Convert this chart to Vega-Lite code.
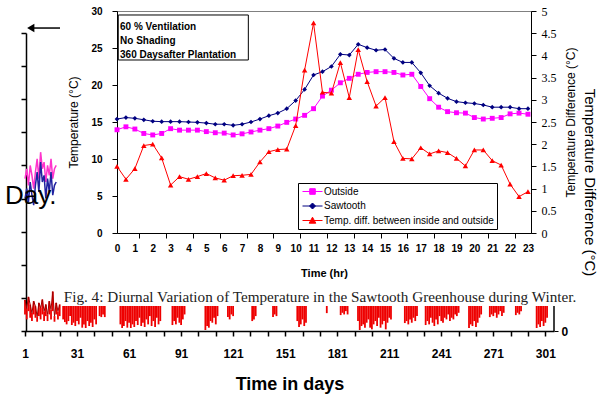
{
  "$schema": "https://vega.github.io/schema/vega-lite/v6.json",
  "width": 414,
  "height": 222,
  "autosize": {"type": "none"},
  "padding": {"left": 117, "top": 11, "right": 68, "bottom": 167},
  "background": "white",
  "config": {
    "font": "Liberation Sans",
    "view": {"stroke": "#808080", "strokeWidth": 1},
    "axis": {"grid": false, "domainColor": "black", "tickColor": "black", "labelColor": "black", "titleColor": "black", "labelFlush": false, "labelOverlap": false, "labelBound": false}
  },
  "datasets": {
    "hourly": [
      {"h": 0, "outside": 13.95, "saw": 15.4, "diff": 1.5},
      {"h": 0.5, "outside": 14.35, "saw": 15.6, "diff": 1.21},
      {"h": 1, "outside": 14.05, "saw": 15.5, "diff": 1.45},
      {"h": 1.5, "outside": 13.45, "saw": 15.3, "diff": 1.97},
      {"h": 2, "outside": 13.25, "saw": 15.1, "diff": 2.0},
      {"h": 2.5, "outside": 13.45, "saw": 15.05, "diff": 1.69},
      {"h": 3, "outside": 14.1, "saw": 15.05, "diff": 1.08},
      {"h": 3.5, "outside": 13.9, "saw": 15.05, "diff": 1.27},
      {"h": 4, "outside": 13.9, "saw": 15.0, "diff": 1.21},
      {"h": 4.5, "outside": 13.9, "saw": 14.95, "diff": 1.27},
      {"h": 5, "outside": 13.7, "saw": 14.85, "diff": 1.34},
      {"h": 5.5, "outside": 13.55, "saw": 14.7, "diff": 1.24},
      {"h": 6, "outside": 13.5, "saw": 14.7, "diff": 1.19},
      {"h": 6.5, "outside": 13.25, "saw": 14.55, "diff": 1.29},
      {"h": 7, "outside": 13.4, "saw": 14.7, "diff": 1.3},
      {"h": 7.5, "outside": 13.65, "saw": 15.0, "diff": 1.32},
      {"h": 8, "outside": 13.9, "saw": 15.4, "diff": 1.6},
      {"h": 8.5, "outside": 14.1, "saw": 15.85, "diff": 1.83},
      {"h": 9, "outside": 14.45, "saw": 16.2, "diff": 1.88},
      {"h": 9.5, "outside": 14.95, "saw": 16.8, "diff": 1.89},
      {"h": 10, "outside": 15.4, "saw": 17.9, "diff": 2.42},
      {"h": 10.5, "outside": 15.9, "saw": 19.4, "diff": 3.67},
      {"h": 11, "outside": 16.8, "saw": 21.35, "diff": 4.73},
      {"h": 11.5, "outside": 18.5, "saw": 21.8, "diff": 3.17},
      {"h": 12, "outside": 19.3, "saw": 22.5, "diff": 3.15},
      {"h": 12.5, "outside": 20.3, "saw": 24.15, "diff": 3.84},
      {"h": 13, "outside": 20.9, "saw": 24.05, "diff": 3.05},
      {"h": 13.5, "outside": 21.45, "saw": 25.5, "diff": 4.13},
      {"h": 14, "outside": 21.7, "saw": 25.05, "diff": 3.41},
      {"h": 14.5, "outside": 21.8, "saw": 24.7, "diff": 2.86},
      {"h": 15, "outside": 21.8, "saw": 24.8, "diff": 3.05},
      {"h": 15.5, "outside": 21.7, "saw": 23.6, "diff": 2.06},
      {"h": 16, "outside": 21.35, "saw": 23.05, "diff": 1.68},
      {"h": 16.5, "outside": 21.45, "saw": 23.05, "diff": 1.67},
      {"h": 17, "outside": 19.8, "saw": 21.65, "diff": 1.92},
      {"h": 17.5, "outside": 18.15, "saw": 19.9, "diff": 1.78},
      {"h": 18, "outside": 17.0, "saw": 18.9, "diff": 1.85},
      {"h": 18.5, "outside": 16.4, "saw": 18.2, "diff": 1.81},
      {"h": 19, "outside": 16.25, "saw": 17.75, "diff": 1.68},
      {"h": 19.5, "outside": 16.2, "saw": 17.6, "diff": 1.51},
      {"h": 20, "outside": 15.6, "saw": 17.5, "diff": 1.87},
      {"h": 20.5, "outside": 15.4, "saw": 17.3, "diff": 1.87},
      {"h": 21, "outside": 15.5, "saw": 17.0, "diff": 1.63},
      {"h": 21.5, "outside": 15.6, "saw": 17.0, "diff": 1.53},
      {"h": 22, "outside": 16.1, "saw": 17.0, "diff": 1.1},
      {"h": 22.5, "outside": 16.2, "saw": 16.8, "diff": 0.82},
      {"h": 23, "outside": 16.05, "saw": 16.8, "diff": 0.93}
    ],
    "bars": [
      {"day": 1, "low": 0.5, "high": 0.94}, {"day": 2, "low": 0.35, "high": 0.69}, {"day": 3, "low": 0.6, "high": 1.03},
      {"day": 4, "low": 0.4, "high": 0.8}, {"day": 5, "low": 0.3, "high": 0.54}, {"day": 6, "low": 0.5, "high": 0.9},
      {"day": 7, "low": 0.4, "high": 0.75}, {"day": 8, "low": 0.28, "high": 0.43}, {"day": 9, "low": 0.45, "high": 0.85},
      {"day": 10, "low": 0.35, "high": 0.7}, {"day": 11, "low": 0.5, "high": 0.95}, {"day": 12, "low": 0.3, "high": 0.6},
      {"day": 13, "low": 0.45, "high": 0.8}, {"day": 14, "low": 0.3, "high": 0.5}, {"day": 15, "low": 0.5, "high": 0.9},
      {"day": 16, "low": 0.35, "high": 0.65}, {"day": 17, "low": 0.6, "high": 1.19}, {"day": 18, "low": 0.28, "high": 0.45},
      {"day": 19, "low": 0.5, "high": 0.85}, {"day": 20, "low": 0.35, "high": 0.6}, {"day": 21, "low": 0.45, "high": 0.8},
      {"day": 23, "low": 0.35, "high": 0.755}, {"day": 24, "low": 0.27, "high": 0.755}, {"day": 25, "low": 0.2, "high": 0.755}, {"day": 26, "low": 0.3, "high": 0.755}, {"day": 27, "low": 0.45, "high": 0.755},
      {"day": 28, "low": 0.18, "high": 0.755}, {"day": 29, "low": 0.25, "high": 0.755}, {"day": 30, "low": 0.15, "high": 0.755}, {"day": 31, "low": 0.3, "high": 0.755}, {"day": 32, "low": 0.2, "high": 0.755}, {"day": 33, "low": 0.4, "high": 0.755},
      {"day": 34, "low": 0.1, "high": 0.755}, {"day": 35, "low": 0.2, "high": 0.755}, {"day": 36, "low": 0.09, "high": 0.755}, {"day": 37, "low": 0.3, "high": 0.755}, {"day": 38, "low": 0.15, "high": 0.755}, {"day": 39, "low": 0.25, "high": 0.755}, {"day": 40, "low": 0.12, "high": 0.755}, {"day": 41, "low": 0.35, "high": 0.755}, {"day": 42, "low": 0.2, "high": 0.755},
      {"day": 44, "low": 0.45, "high": 0.755}, {"day": 45, "low": 0.42, "high": 0.755}, {"day": 46, "low": 0.5, "high": 0.755}, {"day": 47, "low": 0.42, "high": 0.755},
      {"day": 56, "low": 0.2, "high": 0.755}, {"day": 57, "low": 0.09, "high": 0.755}, {"day": 58, "low": 0.15, "high": 0.755}, {"day": 59, "low": 0.3, "high": 0.755}, {"day": 60, "low": 0.1, "high": 0.755}, {"day": 61, "low": 0.25, "high": 0.755}, {"day": 62, "low": 0.09, "high": 0.755}, {"day": 63, "low": 0.2, "high": 0.755},
      {"day": 64, "low": 0.12, "high": 0.755}, {"day": 65, "low": 0.3, "high": 0.755}, {"day": 66, "low": 0.18, "high": 0.755}, {"day": 67, "low": 0.4, "high": 0.755}, {"day": 68, "low": 0.15, "high": 0.755}, {"day": 69, "low": 0.25, "high": 0.755}, {"day": 70, "low": 0.12, "high": 0.755}, {"day": 71, "low": 0.35, "high": 0.755},
      {"day": 72, "low": 0.2, "high": 0.755}, {"day": 73, "low": 0.45, "high": 0.755}, {"day": 74, "low": 0.15, "high": 0.755}, {"day": 75, "low": 0.3, "high": 0.755}, {"day": 76, "low": 0.12, "high": 0.755}, {"day": 77, "low": 0.4, "high": 0.755}, {"day": 78, "low": 0.2, "high": 0.755}, {"day": 79, "low": 0.3, "high": 0.755},
      {"day": 86, "low": 0.18, "high": 0.755}, {"day": 87, "low": 0.3, "high": 0.755}, {"day": 88, "low": 0.2, "high": 0.755}, {"day": 89, "low": 0.4, "high": 0.755}, {"day": 90, "low": 0.25, "high": 0.755}, {"day": 91, "low": 0.18, "high": 0.755}, {"day": 92, "low": 0.35, "high": 0.755}, {"day": 93, "low": 0.5, "high": 0.755},
      {"day": 105, "low": 0.03, "high": 0.755}, {"day": 106, "low": 0.15, "high": 0.755}, {"day": 107, "low": 0.1, "high": 0.755}, {"day": 108, "low": 0.3, "high": 0.755}, {"day": 109, "low": 0.25, "high": 0.755}, {"day": 110, "low": 0.4, "high": 0.755}, {"day": 111, "low": 0.2, "high": 0.755}, {"day": 112, "low": 0.45, "high": 0.755},
      {"day": 118, "low": 0.42, "high": 0.755}, {"day": 119, "low": 0.35, "high": 0.755}, {"day": 120, "low": 0.5, "high": 0.755}, {"day": 121, "low": 0.45, "high": 0.755},
      {"day": 132, "low": 0.3, "high": 0.755}, {"day": 133, "low": 0.35, "high": 0.755}, {"day": 134, "low": 0.45, "high": 0.755},
      {"day": 144, "low": 0.42, "high": 0.755}, {"day": 145, "low": 0.5, "high": 0.755}, {"day": 146, "low": 0.45, "high": 0.755},
      {"day": 158, "low": 0.3, "high": 0.755}, {"day": 159, "low": 0.12, "high": 0.755}, {"day": 160, "low": 0.2, "high": 0.755}, {"day": 161, "low": 0.35, "high": 0.755}, {"day": 162, "low": 0.15, "high": 0.755}, {"day": 163, "low": 0.25, "high": 0.755},
      {"day": 175, "low": 0.54, "high": 0.755},
      {"day": 183, "low": 0.48, "high": 0.755}, {"day": 184, "low": 0.55, "high": 0.755}, {"day": 185, "low": 0.5, "high": 0.755}, {"day": 186, "low": 0.6, "high": 0.755}, {"day": 187, "low": 0.5, "high": 0.755},
      {"day": 193, "low": 0.3, "high": 0.755}, {"day": 194, "low": 0.03, "high": 0.755}, {"day": 195, "low": 0.15, "high": 0.755}, {"day": 196, "low": 0.2, "high": 0.755}, {"day": 197, "low": 0.1, "high": 0.755}, {"day": 198, "low": 0.25, "high": 0.755}, {"day": 199, "low": 0.35, "high": 0.755}, {"day": 200, "low": 0.1, "high": 0.755}, {"day": 201, "low": 0.05, "high": 0.755}, {"day": 202, "low": 0.2, "high": 0.755},
      {"day": 203, "low": 0.3, "high": 0.755}, {"day": 204, "low": 0.15, "high": 0.755}, {"day": 205, "low": 0.4, "high": 0.755}, {"day": 206, "low": 0.1, "high": 0.755}, {"day": 207, "low": 0.2, "high": 0.755}, {"day": 208, "low": 0.3, "high": 0.755}, {"day": 209, "low": 0.05, "high": 0.755}, {"day": 210, "low": 0.25, "high": 0.755}, {"day": 211, "low": 0.4, "high": 0.755}, {"day": 212, "low": 0.35, "high": 0.755},
      {"day": 220, "low": 0.24, "high": 0.755}, {"day": 221, "low": 0.3, "high": 0.755}, {"day": 222, "low": 0.2, "high": 0.755}, {"day": 223, "low": 0.35, "high": 0.755}, {"day": 224, "low": 0.25, "high": 0.755}, {"day": 225, "low": 0.4, "high": 0.755}, {"day": 226, "low": 0.3, "high": 0.755}, {"day": 227, "low": 0.45, "high": 0.755},
      {"day": 232, "low": 0.18, "high": 0.755}, {"day": 233, "low": 0.3, "high": 0.755}, {"day": 234, "low": 0.2, "high": 0.755}, {"day": 235, "low": 0.4, "high": 0.755}, {"day": 236, "low": 0.25, "high": 0.755}, {"day": 237, "low": 0.15, "high": 0.755}, {"day": 238, "low": 0.35, "high": 0.755}, {"day": 239, "low": 0.2, "high": 0.755}, {"day": 240, "low": 0.45, "high": 0.755}, {"day": 241, "low": 0.3, "high": 0.755}, {"day": 242, "low": 0.25, "high": 0.755}, {"day": 243, "low": 0.4, "high": 0.755}, {"day": 244, "low": 0.35, "high": 0.755}, {"day": 245, "low": 0.5, "high": 0.755},
      {"day": 246, "low": 0.3, "high": 0.755}, {"day": 247, "low": 0.4, "high": 0.755}, {"day": 248, "low": 0.35, "high": 0.755}, {"day": 249, "low": 0.5, "high": 0.755}, {"day": 250, "low": 0.45, "high": 0.755}, {"day": 251, "low": 0.55, "high": 0.755},
      {"day": 257, "low": 0.09, "high": 0.755}, {"day": 258, "low": 0.2, "high": 0.755}, {"day": 259, "low": 0.15, "high": 0.755}, {"day": 260, "low": 0.3, "high": 0.755}, {"day": 261, "low": 0.12, "high": 0.755}, {"day": 262, "low": 0.25, "high": 0.755}, {"day": 263, "low": 0.4, "high": 0.755}, {"day": 264, "low": 0.5, "high": 0.755},
      {"day": 269, "low": 0.42, "high": 0.755}, {"day": 270, "low": 0.5, "high": 0.755}, {"day": 271, "low": 0.45, "high": 0.755}, {"day": 272, "low": 0.55, "high": 0.755}, {"day": 273, "low": 0.4, "high": 0.755}, {"day": 274, "low": 0.5, "high": 0.755}, {"day": 275, "low": 0.6, "high": 0.755}, {"day": 276, "low": 0.45, "high": 0.755}, {"day": 277, "low": 0.55, "high": 0.755},
      {"day": 284, "low": 0.48, "high": 0.755}, {"day": 285, "low": 0.55, "high": 0.755}, {"day": 286, "low": 0.5, "high": 0.755}, {"day": 287, "low": 0.6, "high": 0.755},
      {"day": 296, "low": 0.09, "high": 0.755}, {"day": 297, "low": 0.2, "high": 0.755}, {"day": 298, "low": 0.12, "high": 0.755}, {"day": 299, "low": 0.3, "high": 0.755}, {"day": 300, "low": 0.15, "high": 0.755}, {"day": 301, "low": 0.25, "high": 0.755}, {"day": 302, "low": 0.4, "high": 0.755}
    ],
    "left": [
      {"day": 1, "mag": 4.6, "navy": 4.0}, {"day": 2, "mag": 4.9, "navy": 4.3}, {"day": 3, "mag": 4.4, "navy": 3.9},
      {"day": 4, "mag": 5.0, "navy": 4.5}, {"day": 5, "mag": 4.7, "navy": 4.1}, {"day": 6, "mag": 4.3, "navy": 3.8},
      {"day": 7, "mag": 4.8, "navy": 4.4}, {"day": 8, "mag": 5.2, "navy": 4.8}, {"day": 9, "mag": 4.6, "navy": 4.2},
      {"day": 10, "mag": 5.4, "navy": 5.1}, {"day": 11, "mag": 4.9, "navy": 4.5}, {"day": 12, "mag": 5.1, "navy": 4.7},
      {"day": 13, "mag": 4.5, "navy": 4.0}, {"day": 14, "mag": 5.0, "navy": 4.6}, {"day": 15, "mag": 4.7, "navy": 4.2},
      {"day": 16, "mag": 5.2, "navy": 4.8}, {"day": 17, "mag": 4.6, "navy": 4.1}, {"day": 18, "mag": 4.9, "navy": 4.4},
      {"day": 19, "mag": 5.0, "navy": 4.5}
    ]
  },
  "layer": [
    {
      "layer": [
        {
          "data": {"name": "bars"},
          "mark": {"type": "rule", "color": "#ee0000", "strokeWidth": 1.8},
          "encoding": {
            "x": {"field": "day", "type": "quantitative", "scale": {"domain": [1, 306], "range": [-92, 437], "nice": false, "zero": false},
              "axis": {"orient": "bottom", "offset": 98, "values": [1, 11, 21, 31, 41, 51, 61, 71, 81, 91, 101, 111, 121, 131, 141, 151, 161, 171, 181, 191, 201, 211, 221, 231, 241, 251, 261, 271, 281, 291, 301],
                "labelExpr": "(datum.value - 1) % 30 == 0 ? datum.label : ''", "tickSize": 5, "tickWidth": 1.5, "domainWidth": 1.5,
                "labelFontSize": 12, "labelFontWeight": "bold", "labelPadding": 12,
                "title": "Time in days", "titleFontSize": 18, "titleFontWeight": "bold", "titlePadding": 16}},
            "y": {"field": "low", "type": "quantitative", "scale": {"domain": [0, 9], "range": [320, 22], "nice": false, "zero": false},
              "axis": {"orient": "left", "offset": 91, "values": [0, 1, 2, 3, 4, 5, 6, 7, 8, 9], "labels": false, "tickSize": 5, "tickWidth": 1.5, "domainWidth": 1.5, "title": null}},
            "y2": {"field": "high"}
          }
        },
        {
          "data": {"name": "bars"},
          "transform": [{"filter": "datum.day <= 21"}],
          "mark": {"type": "line", "color": "#a00000", "strokeWidth": 1},
          "encoding": {
            "x": {"field": "day", "type": "quantitative", "scale": {"domain": [1, 306], "range": [-92, 437], "nice": false, "zero": false}, "axis": null},
            "y": {"field": "high", "type": "quantitative", "scale": {"domain": [0, 9], "range": [320, 22], "nice": false, "zero": false},
              "axis": {"orient": "right", "offset": 23, "values": [0], "domain": false, "tickSize": 4, "labelFontSize": 12, "labelFontWeight": "bold", "labelPadding": 3,
                "title": "Temperature Difference (°C)", "titleFontSize": 15, "titleFontWeight": "normal", "titlePadding": 14}}
          }
        },
        {
          "data": {"name": "left"},
          "mark": {"type": "line", "color": "#ff33cc", "strokeWidth": 1.5},
          "encoding": {
            "x": {"field": "day", "type": "quantitative", "scale": {"domain": [1, 306], "range": [-92, 437], "nice": false, "zero": false}, "axis": null},
            "y": {"field": "mag", "type": "quantitative", "scale": {"domain": [0, 9], "range": [320, 22], "nice": false, "zero": false}, "axis": null}
          }
        },
        {
          "data": {"name": "left"},
          "mark": {"type": "line", "color": "#2020a0", "strokeWidth": 1.5},
          "encoding": {
            "x": {"field": "day", "type": "quantitative", "scale": {"domain": [1, 306], "range": [-92, 437], "nice": false, "zero": false}, "axis": null},
            "y": {"field": "navy", "type": "quantitative", "scale": {"domain": [0, 9], "range": [320, 22], "nice": false, "zero": false}, "axis": null}
          }
        },
        {
          "data": {"values": [{}]},
          "mark": {"type": "text", "text": "Day.", "font": "Liberation Sans", "fontSize": 26, "align": "left", "baseline": "alphabetic", "color": "black"},
          "encoding": {
            "x": {"datum": -10.5, "type": "quantitative", "scale": {"domain": [1, 306], "range": [-92, 437], "nice": false, "zero": false}, "axis": null},
            "y": {"datum": 3.85, "type": "quantitative", "scale": {"domain": [0, 9], "range": [320, 22], "nice": false, "zero": false}, "axis": null}
          }
        },
        {
          "data": {"values": [{}]},
          "mark": {"type": "rule", "color": "black", "strokeWidth": 1.5},
          "encoding": {
            "x": {"datum": 4, "type": "quantitative", "scale": {"domain": [1, 306], "range": [-92, 437], "nice": false, "zero": false}, "axis": null},
            "x2": {"datum": 21.2},
            "y": {"datum": 9.15, "type": "quantitative", "scale": {"domain": [0, 9], "range": [320, 22], "nice": false, "zero": false}, "axis": null}
          }
        },
        {
          "data": {"values": [{}]},
          "mark": {"type": "point", "shape": "triangle-left", "filled": true, "color": "black", "size": 70, "opacity": 1},
          "encoding": {
            "x": {"datum": 4.3, "type": "quantitative", "scale": {"domain": [1, 306], "range": [-92, 437], "nice": false, "zero": false}, "axis": null},
            "y": {"datum": 9.15, "type": "quantitative", "scale": {"domain": [0, 9], "range": [320, 22], "nice": false, "zero": false}, "axis": null}
          }
        },
        {
          "data": {"values": [{}]},
          "mark": {"type": "rule", "color": "black", "strokeWidth": 1.5},
          "encoding": {
            "x": {"datum": 306, "type": "quantitative", "scale": {"domain": [1, 306], "range": [-92, 437], "nice": false, "zero": false}, "axis": null},
            "y": {"datum": 0, "type": "quantitative", "scale": {"domain": [0, 9], "range": [320, 22], "nice": false, "zero": false}, "axis": null},
            "y2": {"datum": 0.755}
          }
        }
      ],
      "resolve": {"axis": {"x": "independent", "y": "independent"}}
    },
    {
      "layer": [
        {
          "layer": [
            {
              "data": {"values": [{}]},
              "mark": {"type": "rect", "fill": "white", "stroke": "black", "strokeWidth": 1},
              "encoding": {
                "x": {"datum": 0.07, "type": "quantitative", "scale": {"domain": [0, 23.17], "nice": false, "zero": false}, "axis": null},
                "x2": {"datum": 7.35},
                "y": {"datum": 29.46, "type": "quantitative", "scale": {"domain": [0, 30], "nice": false}, "axis": null},
                "y2": {"datum": 23.38}
              }
            },
            {
              "data": {"values": [{}]},
              "mark": {"type": "text", "text": ["60 % Ventilation", "No Shading", "360 Daysafter Plantation"], "align": "left", "baseline": "top", "fontSize": 10, "fontWeight": "bold", "lineHeight": 14, "color": "black"},
              "encoding": {
                "x": {"datum": 0.17, "type": "quantitative", "scale": {"domain": [0, 23.17], "nice": false, "zero": false}, "axis": null},
                "y": {"datum": 28.5, "type": "quantitative", "scale": {"domain": [0, 30], "nice": false}, "axis": null}
              }
            },
            {
              "data": {"name": "hourly"},
              "mark": {"type": "line", "color": "#ff00ff", "strokeWidth": 1, "point": {"shape": "square", "size": 24, "filled": true, "color": "#ff00ff", "opacity": 1}},
              "encoding": {
                "x": {"field": "h", "type": "quantitative", "scale": {"domain": [0, 23.17], "nice": false, "zero": false},
                  "axis": {"orient": "bottom", "values": [1.25, 2.75, 4.25, 5.75, 7.25, 8.75, 10.25, 11.75, 13.25, 14.75, 16.25, 17.75, 19.25, 20.75, 22.25], "labels": false, "domain": false, "tickSize": 5, "title": null}},
                "y": {"field": "outside", "type": "quantitative", "scale": {"domain": [0, 30], "nice": false},
                  "axis": {"orient": "left", "values": [0, 5, 10, 15, 20, 25, 30], "tickSize": 5, "labelFontSize": 10, "labelFontWeight": "bold", "labelPadding": 10,
                    "title": "Temperature (°C)", "titleFontSize": 12, "titleFontWeight": "normal", "titlePadding": 10}}
              }
            },
            {
              "data": {"name": "hourly"},
              "mark": {"type": "line", "color": "#000080", "strokeWidth": 1, "point": {"shape": "diamond", "size": 22, "filled": true, "color": "#000080", "opacity": 1}},
              "encoding": {
                "x": {"field": "h", "type": "quantitative", "scale": {"domain": [0, 23.17], "nice": false, "zero": false}, "axis": null},
                "y": {"field": "saw", "type": "quantitative", "scale": {"domain": [0, 30], "nice": false}, "axis": null}
              }
            },
            {
              "data": {"values": [{}]},
              "mark": {"type": "text", "text": "Fig. 4: Diurnal Variation of Temperature in the Sawtooth Greenhouse during Winter.", "font": "Liberation Serif", "fontSize": 15.2, "align": "center", "baseline": "middle", "color": "#222222"},
              "encoding": {
                "x": {"datum": 11.36, "type": "quantitative", "scale": {"domain": [0, 23.17], "nice": false, "zero": false}, "axis": null},
                "y": {"datum": -8.65, "type": "quantitative", "scale": {"domain": [0, 30], "nice": false}, "axis": null}
              }
            }
          ],
          "resolve": {"axis": {"x": "independent", "y": "independent"}}
        },
        {
          "data": {"name": "hourly"},
          "mark": {"type": "line", "color": "#ff0000", "strokeWidth": 1, "point": {"shape": "triangle-up", "size": 30, "filled": true, "color": "#ff0000", "opacity": 1}},
          "encoding": {
            "x": {"field": "h", "type": "quantitative", "scale": {"domain": [0, 23.17], "nice": false, "zero": false},
              "axis": {"orient": "bottom", "values": [0, 1, 2, 3, 4, 5, 6, 7, 8, 9, 10, 11, 12, 13, 14, 15, 16, 17, 18, 19, 20, 21, 22, 23], "ticks": false, "tickSize": 0, "labelFontSize": 10, "labelFontWeight": "bold", "labelPadding": 10,
                "title": "Time (hr)", "titleFontSize": 11, "titleFontWeight": "bold", "titlePadding": 14}},
            "y": {"field": "diff", "type": "quantitative", "scale": {"domain": [0, 5], "nice": false},
              "axis": {"orient": "right", "values": [0, 0.5, 1, 1.5, 2, 2.5, 3, 3.5, 4, 4.5, 5], "format": "~g", "tickSize": 5, "labelFont": "Liberation Serif", "labelFontSize": 12, "labelPadding": 5,
                "title": "Temperature Difference (°C)", "titleAngle": 270, "titleBaseline": "top", "titleFontSize": 12, "titleFontWeight": "normal", "titlePadding": 9}}
          }
        },
        {
          "data": {"name": "hourly"},
          "transform": [{"filter": "false"}],
          "mark": {"type": "point", "filled": true, "strokeWidth": 1, "opacity": 1},
          "encoding": {
            "shape": {"field": "series", "type": "nominal",
              "scale": {"domain": ["Outside", "Sawtooth", "Temp. diff. between inside and outside"], "range": ["M-2,0L2,0M-0.56,-0.56L0.56,-0.56L0.56,0.56L-0.56,0.56Z", "M-2,0L2,0M0,-0.6L0.6,0L0,0.6L-0.6,0Z", "M-2,0L2,0M0,-0.66L0.66,0.54L-0.66,0.54Z"]},
              "legend": {"orient": "none", "legendX": 181, "legendY": 172, "title": null, "strokeColor": "black", "fillColor": "white", "padding": 3, "rowPadding": 3.5, "labelFontSize": 10, "labelLimit": 300, "labelOffset": 6, "symbolOffset": 6, "symbolSize": 100, "symbolStrokeWidth": 1}},
            "fill": {"field": "series", "type": "nominal",
              "scale": {"domain": ["Outside", "Sawtooth", "Temp. diff. between inside and outside"], "range": ["#ff00ff", "#000080", "#ff0000"]},
              "legend": {"orient": "none", "legendX": 181, "legendY": 172, "title": null, "strokeColor": "black", "fillColor": "white", "padding": 3, "rowPadding": 3.5, "labelFontSize": 10, "labelLimit": 300, "labelOffset": 6, "symbolOffset": 6, "symbolSize": 100, "symbolStrokeWidth": 1}},
            "stroke": {"field": "series", "type": "nominal",
              "scale": {"domain": ["Outside", "Sawtooth", "Temp. diff. between inside and outside"], "range": ["#ff00ff", "#000080", "#ff0000"]},
              "legend": {"orient": "none", "legendX": 181, "legendY": 172, "title": null, "strokeColor": "black", "fillColor": "white", "padding": 3, "rowPadding": 3.5, "labelFontSize": 10, "labelLimit": 300, "labelOffset": 6, "symbolOffset": 6, "symbolSize": 100, "symbolStrokeWidth": 1}}
          }
        }
      ],
      "resolve": {"scale": {"y": "independent"}, "axis": {"x": "independent", "y": "independent"}}
    }
  ],
  "resolve": {"scale": {"x": "independent", "y": "independent"}, "axis": {"x": "independent", "y": "independent"}}
}
